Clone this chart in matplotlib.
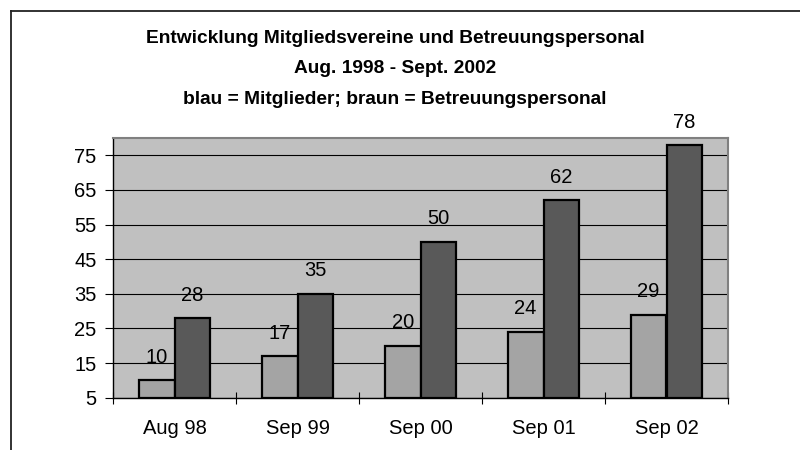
import matplotlib.pyplot as plt
import numpy as np
from matplotlib.lines import Line2D

# data
categories = ['Aug 98', 'Sep 99', 'Sep 00', 'Sep 01', 'Sep 02']
mitglieder = [10, 17, 20, 24, 29]
personal = [28, 35, 50, 62, 78]
yticks = [5, 15, 25, 35, 45, 55, 65, 75]

plt.rcParams['font.family'] = ['Liberation Sans', 'DejaVu Sans']
fs = 14.5

fig = plt.figure(figsize=(8, 4.5), dpi=100)
ax = fig.add_axes([113/800, 1 - 397.7/450, (728 - 113)/800, (397.7 - 138)/450])
ax.set_facecolor('#c0c0c0')

x = np.arange(len(categories))
w = 0.29
ax.bar(x - w/2, np.array(mitglieder) - 5, w, bottom=5, color='#a4a4a4',
       edgecolor='black', linewidth=1.6, zorder=3)
ax.bar(x + w/2, np.array(personal) - 5, w, bottom=5, color='#595959',
       edgecolor='black', linewidth=1.6, zorder=3)

for xi, v in zip(x - w/2, mitglieder):
    ax.annotate(str(v), (xi, v), xytext=(0, 16.5), textcoords='offset points',
                ha='center', va='center', fontsize=fs)
for xi, v in zip(x + w/2, personal):
    ax.annotate(str(v), (xi, v), xytext=(0, 16.5), textcoords='offset points',
                ha='center', va='center', fontsize=fs)

ax.set_xlim(-0.5, len(categories) - 0.5)
ax.set_ylim(5, 80)
ax.set_yticks(yticks)
ax.set_yticklabels([str(t) for t in yticks], fontsize=fs)
ax.yaxis.grid(True, color='black', linewidth=0.8, zorder=1)
ax.set_axisbelow(True)

ax.set_xticks(x)
ax.set_xticklabels(categories, fontsize=fs)
ax.set_xticks(np.arange(len(categories) + 1) - 0.5, minor=True)
ax.tick_params(axis='x', which='major', length=0, pad=15)
ax.tick_params(axis='x', which='minor', direction='inout', length=8.5, width=0.8)
ax.tick_params(axis='y', direction='out', length=5.8, width=0.8, pad=6)

for s in ['left', 'bottom']:
    ax.spines[s].set_color('black')
    ax.spines[s].set_linewidth(1.0)
for s in ['top', 'right']:
    ax.spines[s].set_color('#808080')
    ax.spines[s].set_linewidth(1.5)

tfs = 13.8
fig.text(395/800, 1 - 38.3/450, 'Entwicklung Mitgliedsvereine und Betreuungspersonal',
         ha='center', va='center', fontsize=tfs, fontweight='bold')
fig.text(395/800, 1 - 68.3/450, 'Aug. 1998 - Sept. 2002',
         ha='center', va='center', fontsize=tfs, fontweight='bold')
fig.text(395/800, 1 - 99.3/450, 'blau = Mitglieder; braun = Betreuungspersonal',
         ha='center', va='center', fontsize=tfs, fontweight='bold')

# outer chart border (only top and left visible in the crop)
fig.add_artist(Line2D([11/800, 1], [1 - 11/450, 1 - 11/450], color='#222222',
                      linewidth=1.3, transform=fig.transFigure))
fig.add_artist(Line2D([11/800, 11/800], [0, 1 - 11/450], color='#222222',
                      linewidth=1.3, transform=fig.transFigure))

fig.savefig('out.png', dpi=100)
